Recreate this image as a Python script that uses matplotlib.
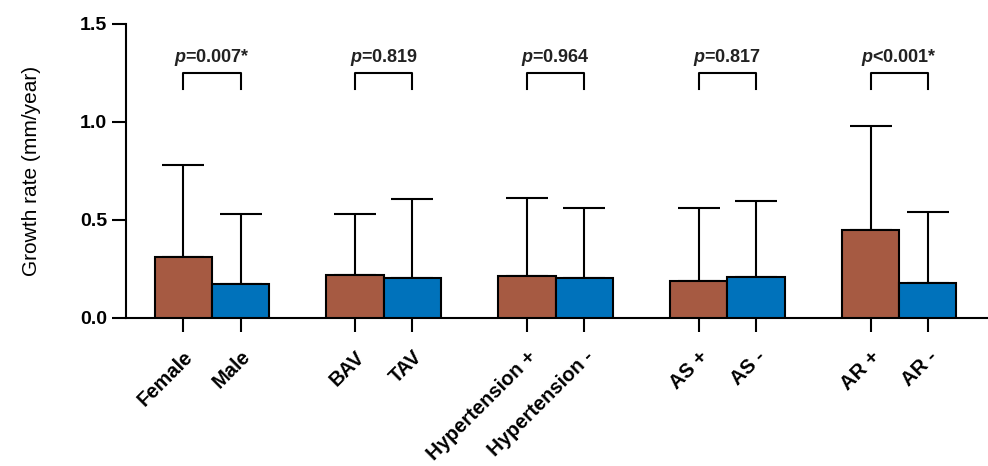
import matplotlib
matplotlib.use("Agg")
import matplotlib.pyplot as plt
import numpy as np

plt.rcParams['font.family'] = ['Liberation Sans', 'DejaVu Sans']
plt.rcParams['mathtext.fontset'] = 'custom'
plt.rcParams['mathtext.it'] = 'Liberation Sans:italic:bold'
plt.rcParams['mathtext.rm'] = 'Liberation Sans:bold'

labels = ["Female", "Male", "BAV", "TAV", "Hypertension +", "Hypertension -",
          "AS +", "AS -", "AR +", "AR -"]
means = [0.311, 0.173, 0.220, 0.204, 0.212, 0.202, 0.189, 0.209, 0.449, 0.180]
sd = [0.469, 0.357, 0.310, 0.403, 0.398, 0.358, 0.371, 0.388, 0.531, 0.360]
pvals = ["=0.007*", "=0.819", "=0.964", "=0.817", "<0.001*"]

brown = "#A65A42"
blue = "#0072BB"

xpos = []
for g in range(5):
    xpos += [g * 3, g * 3 + 1]
xpos = np.array(xpos)
colors = [brown, blue] * 5

fig = plt.figure(figsize=(9.88, 4.66), dpi=100)
ax = fig.add_axes([0.1275, 0.3176, 0.8725, 0.6309])

ax.bar(xpos, means, width=1.0, color=colors, edgecolor="black", linewidth=1.5, zorder=3)
ax.errorbar(xpos, means, yerr=[np.zeros(len(sd)), sd], fmt="none", ecolor="black",
            elinewidth=1.5, capsize=15, capthick=1.5, zorder=2)

# significance brackets
for g in range(5):
    x1, x2 = g * 3, g * 3 + 1
    ax.plot([x1, x1, x2, x2], [1.17, 1.25, 1.25, 1.17], color="black", lw=1.5,
            clip_on=False)
    ax.text((x1 + x2) / 2, 1.275, r"$\mathit{p}$" + pvals[g], ha="center", va="bottom",
            fontsize=13, fontweight="bold", color="#222222")

ax.set_xlim(-1, 14.05)
ax.set_ylim(0, 1.5)
ax.set_yticks([0.0, 0.5, 1.0, 1.5])
ax.set_yticklabels(["0.0", "0.5", "1.0", "1.5"], fontsize=14, fontweight="bold")
ax.set_xticks(xpos)
ax.set_xticklabels(labels, rotation=45, ha="right", rotation_mode="anchor",
                   fontsize=14.5, fontweight="bold")
ax.set_ylabel("Growth rate (mm/year)", fontsize=15, labelpad=28)

ax.spines["top"].set_visible(False)
ax.spines["right"].set_visible(False)
ax.spines["left"].set_linewidth(1.5)
ax.spines["bottom"].set_linewidth(1.5)
ax.tick_params(axis="both", direction="out", length=10, width=1.5)
ax.tick_params(axis="x", pad=11)

fig.savefig("out.png", dpi=100)
